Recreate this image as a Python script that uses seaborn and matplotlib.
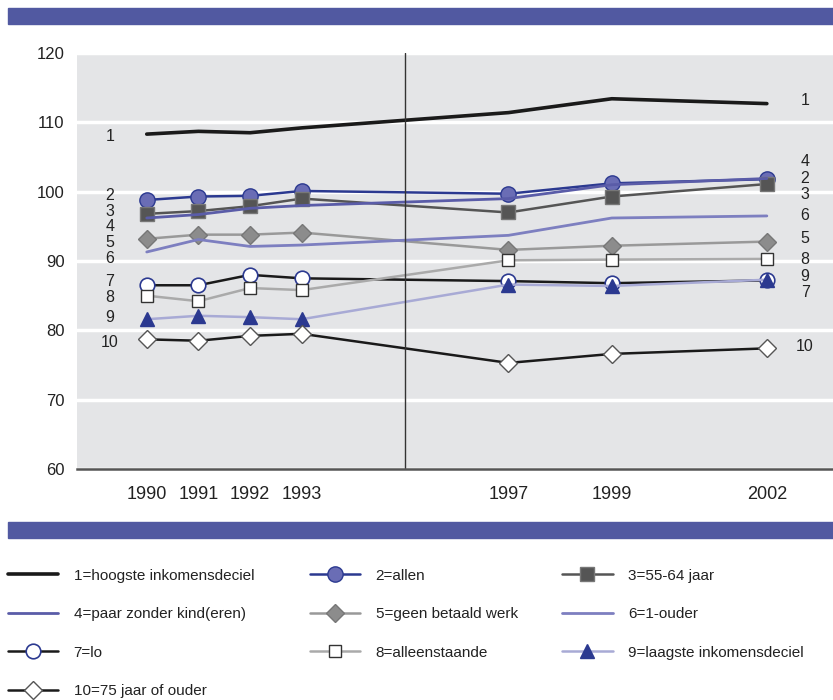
import seaborn as sns
from matplotlib import pyplot as plt
from matplotlib.patches import Rectangle

# jaren en indexcijfers per groep
years = [1990, 1991, 1992, 1993, 1997, 1999, 2002]

hoogste_deciel = [108.3, 108.7, 108.5, 109.2, 111.4, 113.4, 112.7]
allen = [98.8, 99.3, 99.4, 100.1, 99.7, 101.2, 101.8]
jaar_55_64 = [96.8, 97.2, 97.9, 99.0, 97.0, 99.3, 101.1]
paar_zonder_kind = [96.2, 96.7, 97.6, 98.0, 99.0, 101.0, 101.9]
geen_betaald_werk = [93.2, 93.8, 93.8, 94.1, 91.6, 92.2, 92.8]
een_ouder = [91.3, 93.1, 92.1, 92.3, 93.7, 96.2, 96.5]
lo = [86.5, 86.5, 88.0, 87.5, 87.1, 86.8, 87.2]
alleenstaande = [85.0, 84.2, 86.1, 85.8, 90.1, 90.2, 90.3]
laagste_deciel = [81.6, 82.1, 81.9, 81.6, 86.6, 86.4, 87.3]
ouder_75 = [78.7, 78.5, 79.2, 79.5, 75.3, 76.6, 77.4]

labels = ["1=hoogste inkomensdeciel", "2=allen", "3=55-64 jaar",
          "4=paar zonder kind(eren)", "5=geen betaald werk", "6=1-ouder",
          "7=lo", "8=alleenstaande", "9=laagste inkomensdeciel",
          "10=75 jaar of ouder"]

# positie van de nummers links (1990) en rechts (2002)
left_label_y = [108.0, 99.4, 97.1, 95.0, 92.7, 90.4, 87.1, 84.8, 81.8, 78.2]
right_label_y = [113.2, 101.9, 99.6, 104.3, 93.3, 96.6, 85.4, 90.25, 87.8, 77.6]

series = [hoogste_deciel, allen, jaar_55_64, paar_zonder_kind, geen_betaald_werk,
          een_ouder, lo, alleenstaande, laagste_deciel, ouder_75]

dark = "#1a1a1a"
navy = "#2b3990"
styles = [
    dict(color=dark, lw=2.6),
    dict(color=navy, lw=1.8, marker="o", markersize=11, markerfacecolor="#6a6db5",
         markeredgecolor=navy, markeredgewidth=1),
    dict(color="#555555", lw=1.8, marker="s", markersize=9.5, markerfacecolor="#555555",
         markeredgecolor="#777777", markeredgewidth=1),
    dict(color="#5a5ca8", lw=2.0),
    dict(color="#999999", lw=1.8, marker="D", markersize=9, markerfacecolor="#8c8c8c",
         markeredgecolor="#777777", markeredgewidth=1),
    dict(color="#7d7fc0", lw=2.0),
    dict(color=dark, lw=1.8, marker="o", markersize=10.5, markerfacecolor="white",
         markeredgecolor=navy, markeredgewidth=1.2),
    dict(color="#aaaaaa", lw=1.8, marker="s", markersize=9, markerfacecolor="white",
         markeredgecolor="#333333", markeredgewidth=1),
    dict(color="#a8aad5", lw=1.8, marker="^", markersize=10.5, markerfacecolor=navy,
         markeredgecolor=navy, markeredgewidth=1),
    dict(color=dark, lw=1.8, marker="D", markersize=9, markerfacecolor="white",
         markeredgecolor="#555555", markeredgewidth=1),
]

sns.set_style("darkgrid", {"axes.facecolor": "#e4e5e7", "grid.color": "white"})
plt.rcParams['font.family'] = ['Liberation Sans', 'DejaVu Sans']

fig = plt.figure(figsize=(8.33, 7), dpi=100)
ax = fig.add_axes([0.0924, 0.33, 0.9076, 0.5943])

handles = []
for vals, st in zip(series, styles):
    sns.lineplot(x=years, y=vals, ax=ax, **st)
    handles.append(ax.get_lines()[-1])

# scheidingslijn tussen 1993 en 1997
ax.axvline(1995, color="#333333", lw=1)

for i in range(10):
    ax.text(1989.29, left_label_y[i], str(i + 1), ha="center", va="center",
            fontsize=11.5, color="#222222")
    ax.text(2002.74, right_label_y[i], str(i + 1), ha="center", va="center",
            fontsize=11.5, color="#222222")

ax.set_xlim(1988.65, 2003.28)
ax.set_ylim(60, 119.6)
ax.set_yticks([60, 70, 80, 90, 100, 110, 120])
ax.set_xticks(years)
ax.grid(axis="x", visible=False)
ax.grid(axis="y", color="white", lw=2.5)
ax.set_axisbelow(True)
for s in ["left", "top", "right"]:
    ax.spines[s].set_visible(False)
ax.spines["bottom"].set_visible(True)
ax.spines["bottom"].set_color("#555555")
ax.spines["bottom"].set_linewidth(1.8)
ax.tick_params(axis="y", length=0, pad=9, labelsize=12, labelcolor="#222222")
ax.tick_params(axis="x", direction="inout", length=8, width=1, color="#333333",
               pad=8, labelsize=13, labelcolor="#222222")
ax.set_xlabel("")
ax.set_ylabel("")

# blauwe balken boven en onder
fig.patches.append(Rectangle((0.0096, 0.9657), 0.9904, 0.0229, transform=fig.transFigure,
                             color="#5159a1", zorder=0))
fig.patches.append(Rectangle((0.0096, 0.2314), 0.9904, 0.0229, transform=fig.transFigure,
                             color="#5159a1", zorder=0))

# legenda in drie kolommen, rij voor rij
cols = [[0, 3, 6, 9], [1, 4, 7], [2, 5, 8]]
col_x = [0.0096, 0.372, 0.675]
for idx, x in zip(cols, col_x):
    leg = fig.legend([handles[i] for i in idx], [labels[i] for i in idx],
                     loc="upper left", bbox_to_anchor=(x, 0.1874), frameon=False,
                     fontsize=11, handlelength=3.3, handletextpad=1.0,
                     labelspacing=1.6, borderpad=0, borderaxespad=0, numpoints=1)
    for t in leg.get_texts():
        t.set_color("#222222")

fig.savefig("out.png", dpi=100)
